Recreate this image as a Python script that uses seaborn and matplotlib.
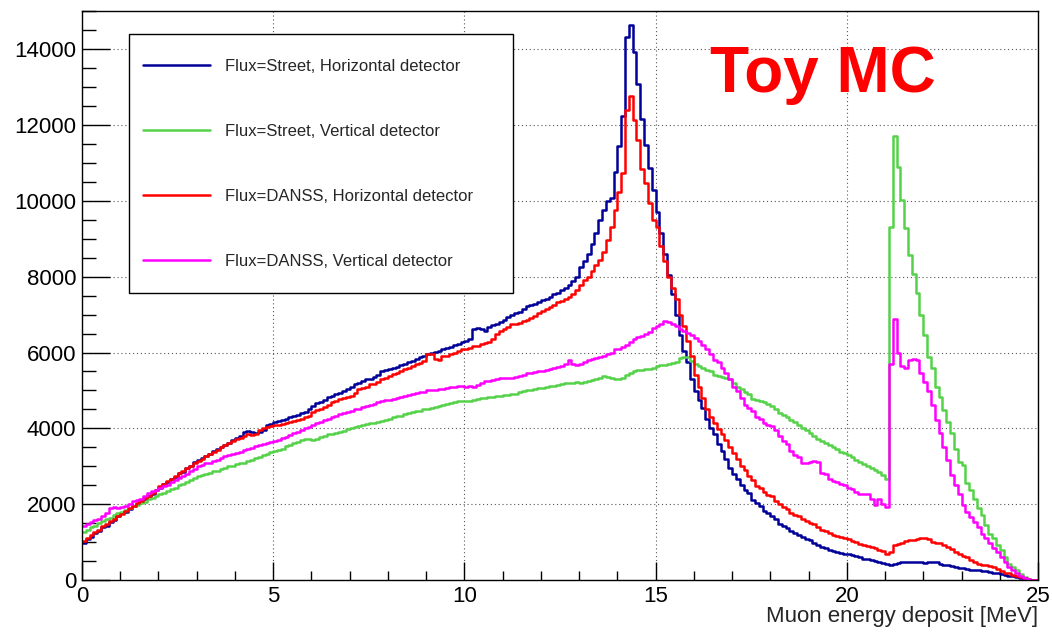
import numpy as np
import pandas as pd
import matplotlib
matplotlib.use("Agg")
import matplotlib.pyplot as plt
from matplotlib.patches import Rectangle
from matplotlib.ticker import MultipleLocator
import seaborn as sns

# ---------------- data (counts per 0.1 MeV bin, 0..25 MeV) ----------------
bin_edges_mev = np.linspace(0.0, 25.0, 251)

street_horizontal = [
    990, 1090, 1140, 1240, 1290, 1390, 1440, 1540, 1590, 1690,
    1760, 1790, 1880, 1950, 2000, 2080, 2130, 2220, 2270, 2380,
    2440, 2530, 2590, 2680, 2730, 2820, 2860, 2960, 3000, 3110,
    3160, 3210, 3280, 3330, 3400, 3450, 3510, 3560, 3620, 3690,
    3760, 3800, 3900, 3920, 3900, 3880, 3910, 3950, 4080, 4120,
    4160, 4190, 4230, 4260, 4290, 4320, 4360, 4400, 4440, 4500,
    4600, 4660, 4700, 4760, 4830, 4860, 4900, 4930, 4980, 5040,
    5100, 5180, 5200, 5250, 5290, 5300, 5360, 5420, 5500, 5530,
    5560, 5600, 5630, 5660, 5700, 5740, 5780, 5830, 5870, 5920,
    5960, 6000, 6010, 6050, 6080, 6110, 6150, 6190, 6230, 6290,
    6310, 6350, 6620, 6640, 6620, 6580, 6660, 6720, 6760, 6800,
    6850, 6930, 7000, 7050, 7080, 7140, 7220, 7250, 7280, 7340,
    7380, 7420, 7470, 7530, 7580, 7640, 7700, 7780, 7880, 8000,
    8250, 8420, 8600, 8850, 9150, 9500, 9750, 9980, 10070, 10770,
    11430, 12220, 14320, 14630, 13930, 13080, 12160, 11470, 10870, 10270,
    9700, 9150, 8600, 8050, 7550, 7000, 6450, 6050, 5750, 5300,
    4980, 4750, 4550, 4250, 4000, 3850, 3600, 3400, 3200, 2950,
    2800, 2680, 2500, 2380, 2300, 2120, 2030, 1950, 1820, 1760,
    1680, 1600, 1480, 1420, 1380, 1290, 1250, 1180, 1130, 1090,
    1050, 980, 920, 870, 850, 800, 770, 750, 720, 690,
    680, 660, 630, 600, 570, 560, 520, 500, 480, 450,
    420, 400, 440, 450, 470, 480, 490, 470, 480, 470,
    460, 470, 480, 470, 440, 410, 400, 380, 340, 320,
    310, 290, 280, 260, 260, 250, 230, 210, 200, 190,
    160, 140, 120, 100, 80, 60, 40, 25, 10, 5,
]

street_vertical = [
    1280, 1330, 1410, 1440, 1510, 1550, 1620, 1650, 1730, 1760,
    1810, 1860, 1890, 1950, 1970, 2040, 2060, 2130, 2160, 2230,
    2260, 2310, 2340, 2400, 2430, 2500, 2530, 2600, 2630, 2700,
    2740, 2760, 2810, 2820, 2870, 2880, 2930, 2950, 3000, 3020,
    3050, 3090, 3100, 3150, 3160, 3220, 3250, 3300, 3320, 3370,
    3400, 3440, 3470, 3530, 3550, 3610, 3630, 3690, 3710, 3720,
    3700, 3730, 3770, 3800, 3840, 3850, 3880, 3900, 3940, 3980,
    4020, 4040, 4070, 4090, 4110, 4130, 4150, 4170, 4200, 4230,
    4260, 4290, 4320, 4340, 4380, 4400, 4430, 4450, 4470, 4500,
    4520, 4550, 4570, 4600, 4630, 4640, 4670, 4690, 4710, 4720,
    4720, 4730, 4760, 4780, 4800, 4810, 4830, 4840, 4850, 4860,
    4870, 4880, 4900, 4920, 4950, 4980, 5000, 5020, 5040, 5060,
    5070, 5090, 5110, 5130, 5150, 5170, 5190, 5200, 5200, 5210,
    5200, 5230, 5250, 5270, 5290, 5330, 5380, 5350, 5320, 5300,
    5290, 5320, 5400, 5450, 5500, 5550, 5540, 5560, 5570, 5600,
    5650, 5680, 5680, 5700, 5720, 5760, 5850, 5890, 5870, 5780,
    5700, 5650, 5600, 5550, 5520, 5400, 5380, 5360, 5340, 5300,
    5200, 5080, 5030, 4950, 4900, 4780, 4750, 4720, 4700, 4650,
    4600, 4500, 4400, 4350, 4300, 4220, 4160, 4080, 4000, 3950,
    3880, 3800, 3720, 3680, 3620, 3550, 3500, 3450, 3380, 3340,
    3300, 3250, 3180, 3120, 3060, 3000, 2960, 2900, 2850, 2780,
    2680, 9315, 11705, 10900, 10020, 9290, 8570, 8070, 7560, 7000,
    6460, 5870, 5580, 5080, 4820, 4480, 4170, 3880, 3470, 3120,
    3030, 2550, 2370, 2150, 1890, 1710, 1450, 1230, 1100, 920,
    790, 615, 440, 350, 260, 160, 90, 20, 5, 0,
]

danss_horizontal = [
    1040, 1110, 1180, 1260, 1330, 1420, 1480, 1560, 1620, 1700,
    1750, 1830, 1900, 1960, 2030, 2100, 2160, 2230, 2300, 2380,
    2480, 2540, 2620, 2680, 2750, 2820, 2880, 2960, 3020, 3090,
    3140, 3200, 3260, 3320, 3380, 3440, 3500, 3560, 3610, 3670,
    3720, 3760, 3800, 3840, 3830, 3850, 3960, 4000, 4040, 4060,
    4080, 4100, 4120, 4150, 4170, 4200, 4230, 4260, 4300, 4340,
    4420, 4480, 4520, 4560, 4620, 4700, 4720, 4780, 4800, 4830,
    4860, 4940, 5040, 5060, 5100, 5160, 5180, 5230, 5290, 5330,
    5380, 5440, 5470, 5520, 5560, 5600, 5640, 5690, 5730, 5780,
    5950, 5970, 5820, 5800, 5900, 5920, 5960, 6000, 6050, 6080,
    6100, 6130, 6170, 6180, 6220, 6250, 6270, 6350, 6480, 6560,
    6620, 6680, 6740, 6760, 6790, 6820, 6850, 6900, 6960, 7040,
    7100, 7150, 7200, 7260, 7320, 7350, 7400, 7450, 7550, 7650,
    7790, 7900, 8000, 8150, 8300, 8450, 8650, 8970, 9300, 9760,
    10220, 10730, 12390, 12760, 12130, 11600, 10830, 10480, 9950, 9500,
    9300, 8800, 8400, 8000, 7700, 7400, 7000, 6700, 6300, 5900,
    5400, 5100, 4800, 4520, 4300, 4130, 3980, 3850, 3700, 3500,
    3350, 3200, 3000, 2900, 2750, 2650, 2480, 2420, 2320, 2250,
    2220, 2100, 2000, 1930, 1880, 1780, 1720, 1690, 1620, 1560,
    1520, 1480, 1400, 1330, 1300, 1250, 1200, 1170, 1130, 1100,
    1080, 1040, 1000, 960, 930, 900, 870, 840, 790, 760,
    700, 750, 920, 950, 980, 1020, 1050, 1060, 1080, 1100,
    1100, 1080, 1010, 990, 970, 930, 870, 820, 740, 700,
    640, 600, 540, 480, 440, 410, 400, 370, 340, 290,
    230, 200, 180, 150, 100, 80, 50, 30, 15, 5,
]

danss_vertical = [
    1420, 1480, 1540, 1590, 1620, 1680, 1760, 1900, 1920, 1910,
    1930, 1960, 2000, 2080, 2120, 2150, 2220, 2300, 2340, 2390,
    2430, 2480, 2520, 2580, 2640, 2700, 2740, 2800, 2870, 2940,
    3010, 3040, 3080, 3100, 3150, 3180, 3220, 3260, 3290, 3330,
    3360, 3390, 3420, 3450, 3480, 3540, 3560, 3600, 3620, 3650,
    3670, 3700, 3740, 3780, 3820, 3870, 3900, 3960, 4000, 4050,
    4100, 4140, 4170, 4220, 4260, 4290, 4330, 4370, 4400, 4440,
    4470, 4500, 4520, 4560, 4580, 4620, 4650, 4690, 4720, 4740,
    4750, 4770, 4800, 4830, 4850, 4870, 4900, 4930, 4950, 4970,
    5000, 5020, 5020, 5040, 5050, 5060, 5080, 5100, 5120, 5110,
    5100, 5110, 5100, 5150, 5200, 5240, 5250, 5280, 5310, 5330,
    5330, 5320, 5340, 5350, 5380, 5420, 5460, 5470, 5490, 5510,
    5510, 5530, 5560, 5600, 5620, 5650, 5700, 5810, 5700, 5680,
    5700, 5760, 5810, 5830, 5850, 5870, 5900, 5950, 6000, 6080,
    6100, 6150, 6200, 6280, 6350, 6400, 6430, 6480, 6550, 6640,
    6700, 6760, 6820, 6800, 6740, 6700, 6620, 6560, 6510, 6450,
    6380, 6300, 6200, 6080, 5950, 5800, 5750, 5600, 5450, 5300,
    5100, 4980, 4800, 4630, 4550, 4450, 4300, 4250, 4150, 4080,
    4060, 3950, 3800, 3670, 3600, 3400, 3300, 3250, 3100, 3080,
    3120, 3130, 3120, 2830, 2800, 2660, 2620, 2580, 2530, 2500,
    2440, 2400, 2330, 2280, 2280, 2270, 2150, 1980, 2150, 2020,
    1930, 5710, 6880, 5980, 5640, 5580, 5800, 5840, 5800, 5450,
    5230, 4990, 4610, 4220, 3870, 3510, 3160, 2770, 2500, 2280,
    1980, 1800, 1670, 1540, 1410, 1230, 1100, 970, 860, 750,
    620, 480, 350, 260, 180, 110, 70, 20, 10, 0,
]

series_labels = [
    "Flux=Street, Horizontal detector",
    "Flux=Street, Vertical detector",
    "Flux=DANSS, Horizontal detector",
    "Flux=DANSS, Vertical detector",
]
series_values = [street_horizontal, street_vertical, danss_horizontal, danss_vertical]
series_colors = ["#000099", "#55D24A", "#FF0000", "#FF00FF"]

x_ticks = [0, 5, 10, 15, 20, 25]
y_ticks = [0, 2000, 4000, 6000, 8000, 10000, 12000, 14000]

# ---------------- style ----------------
sns.set_style("white")
plt.rcParams["font.family"] = ["Liberation Sans", "DejaVu Sans"]

fig = plt.figure(figsize=(10.52, 6.32), dpi=100)
ax = fig.add_axes([82 / 1052, 1 - 580.2 / 632, (1038 - 82) / 1052, (580.2 - 11) / 632])

centers = (bin_edges_mev[:-1] + bin_edges_mev[1:]) / 2
frames = []
for lab, vals in zip(series_labels, series_values):
    frames.append(pd.DataFrame({"energy": centers, "count": vals, "series": lab}))
df = pd.concat(frames, ignore_index=True)

edges_list = [float(e) for e in bin_edges_mev]
for lab, col in zip(series_labels, series_colors):
    sub = df[df["series"] == lab]
    sns.histplot(data=sub, x="energy", weights="count", bins=edges_list,
                 element="step", fill=False, color=col, linewidth=1.8,
                 label=lab, ax=ax)

ax.set_xlim(0, 25)
ax.set_ylim(0, 15000)
ax.set_xticks(x_ticks)
ax.set_yticks(y_ticks)
ax.xaxis.set_minor_locator(MultipleLocator(1))
ax.yaxis.set_minor_locator(MultipleLocator(500))
ax.tick_params(axis="both", which="both", direction="in", colors="black",
               labelsize=16, top=False, right=False, bottom=True, left=True)
ax.tick_params(axis="x", which="major", length=13, width=1, pad=4.5)
ax.tick_params(axis="x", which="minor", length=6.5, width=1)
ax.tick_params(axis="y", which="major", length=20, width=1, pad=4)
ax.tick_params(axis="y", which="minor", length=10, width=1)

ax.grid(True, which="major", color="#555555", linestyle=(0, (1, 2.5)), linewidth=0.8)
ax.set_axisbelow(True)
for s in ax.spines.values():
    s.set_visible(True)
    s.set_color("black")
    s.set_linewidth(1.0)

ax.set_ylabel("")
ax.set_xlabel("Muon energy deposit [MeV]", fontsize=16, loc="right", labelpad=-1)

# legend box (ROOT-like TLegend)
x0 = (129 - 82) / 956
x1 = (513 - 82) / 956
y0 = (580.2 - 293) / 569.2
y1 = (580.2 - 34) / 569.2
ax.add_patch(Rectangle((x0, y0), x1 - x0, y1 - y0, transform=ax.transAxes,
                       facecolor="white", edgecolor="black", linewidth=1.0, zorder=4))
leg = ax.legend(loc="upper left", bbox_to_anchor=((143 - 82) / 956, (580.2 - 59) / 569.2),
                frameon=False, fontsize=12, borderpad=0, borderaxespad=0,
                handlelength=4.0, handletextpad=0.9, labelspacing=3.0)
leg.set_zorder(5)

fig.text(710 / 1052, 1 - 92 / 632, "Toy MC", color="#FF0000", fontsize=46,
         fontweight="bold", ha="left", va="baseline")

fig.savefig("out.png", dpi=100, facecolor="white")
